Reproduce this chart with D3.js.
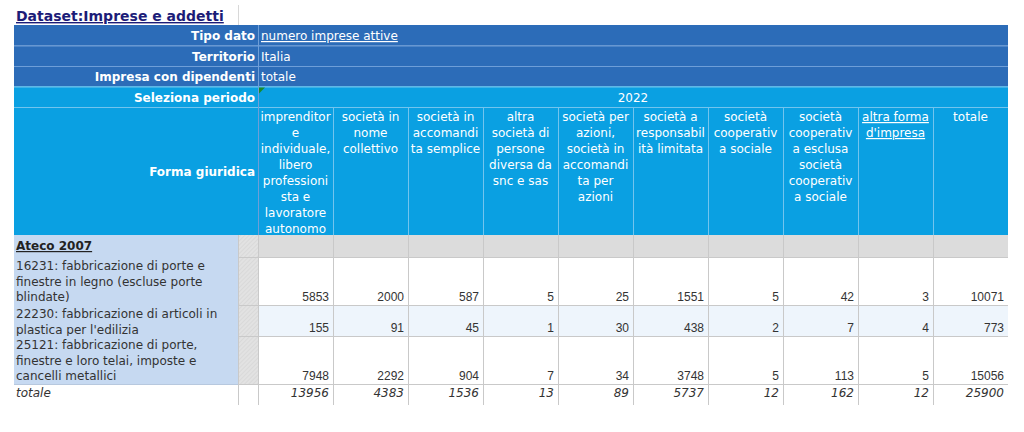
<!DOCTYPE html>
<html><head><meta charset="utf-8">
<script src="https://cdn.jsdelivr.net/npm/d3@7"></script>
<style>body{margin:0;background:#fff}svg{display:block}</style>
</head><body>
<script>
const title = "Dataset:Imprese e addetti";
const filterLabels = ["Tipo dato", "Territorio", "Impresa con dipendenti", "Seleziona periodo"];
const filterValues = ["numero imprese attive", "Italia", "totale", ""];
const periodLabel = "2022";
const columnTitle = "Forma giuridica";
const columns = [
  ["imprenditor","e","individuale,","libero","professioni","sta e","lavoratore","autonomo"],
  ["società in","nome","collettivo"],
  ["società in","accomandi","ta semplice"],
  ["altra","società di","persone","diversa da","snc e sas"],
  ["società per","azioni,","società in","accomandi","ta per","azioni"],
  ["società a","responsabil","ità limitata"],
  ["società","cooperativ","a sociale"],
  ["società","cooperativ","a esclusa","società","cooperativ","a sociale"],
  ["altra forma","d'impresa"],
  ["totale"]
];
const rowGroupLabel = "Ateco 2007";
const rowLabels = [
  ["16231: fabbricazione di porte e","finestre in legno (escluse porte","blindate)"],
  ["22230: fabbricazione di articoli in","plastica per l'edilizia"],
  ["25121: fabbricazione di porte,","finestre e loro telai, imposte e","cancelli metallici"]
];
const row16231 = [5853, 2000, 587, 5, 25, 1551, 5, 42, 3, 10071];
const row22230 = [155, 91, 45, 1, 30, 438, 2, 7, 4, 773];
const row25121 = [7948, 2292, 904, 7, 34, 3748, 5, 113, 5, 15056];
const totalLabel = "totale";
const totals = [13956, 4383, 1536, 13, 89, 5737, 12, 162, 12, 25900];
const rowValues = [row16231, row22230, row25121];

const W = 1024, H = 432;
const svg = d3.select("body").append("svg").attr("width", W).attr("height", H);
const defs = svg.append("defs");
const pat = defs.append("pattern").attr("id","hatch").attr("width",3).attr("height",3)
  .attr("patternUnits","userSpaceOnUse").attr("patternTransform","rotate(45)");
pat.append("rect").attr("width",3).attr("height",3).attr("fill","#e2e2e2");
pat.append("line").attr("x1",0).attr("y1",0).attr("x2",0).attr("y2",3).attr("stroke","#d0d0d0").attr("stroke-width",1);

const L = 14, LBLR = 238, DL = 258, R = 1008;
const x = d3.scaleBand().domain(d3.range(columns.length)).range([DL, R]);
const cw = x.bandwidth();
const DARK = "#2c6cb8", LIGHT = "#0aa0e2", SEP_DARK = "#6e9ed8", SEP_LIGHT = "#72c4ee";
const VF = "'DejaVu Sans', Verdana, sans-serif";
const AF = "'Liberation Sans', Arial, sans-serif";
const FS = 12;

// title
svg.append("text").attr("x", 16).attr("y", 21).text(title)
  .attr("font-family", VF).attr("font-weight","bold").attr("font-size", 14)
  .attr("fill","#1c1c78").attr("text-decoration","underline");
svg.append("line").attr("x1",238.5).attr("x2",238.5).attr("y1",5).attr("y2",25).attr("stroke","#d8d8d8");

// filter rows
const fy = d3.scaleLinear().domain([0, 4]).range([25, 107]);
filterLabels.forEach((lab, i) => {
  const y0 = fy(i), y1 = fy(i+1);
  const bg = i < 3 ? DARK : LIGHT;
  svg.append("rect").attr("x", L).attr("y", y0).attr("width", R-L).attr("height", y1-y0).attr("fill", bg);
  svg.append("text").attr("x", 255).attr("y", y0+15).attr("text-anchor","end").text(lab)
    .attr("font-family", VF).attr("font-weight","bold").attr("font-size", FS).attr("fill","#fff");
  if (filterValues[i]) {
    const t = svg.append("text").attr("x", 261).attr("y", y0+15).text(filterValues[i])
      .attr("font-family", VF).attr("font-size", FS).attr("fill","#fff");
    if (i === 0) t.attr("text-decoration","underline");
  }
});
const yP0 = fy(3);
svg.append("text").attr("x", (DL+R)/2).attr("y", yP0+15).attr("text-anchor","middle").text(periodLabel)
  .attr("font-family", VF).attr("font-size", FS).attr("fill","#fff");

// column header
const hy0 = fy(4), hy1 = 235;
svg.append("rect").attr("x", L).attr("y", hy0).attr("width", R-L).attr("height", hy1-hy0).attr("fill", LIGHT);
svg.append("text").attr("x", 255).attr("y", (hy0+hy1)/2+5).attr("text-anchor","end").text(columnTitle)
  .attr("font-family", VF).attr("font-weight","bold").attr("font-size", FS).attr("fill","#fff");
columns.forEach((lines, j) => {
  const t = svg.append("text").attr("x", x(j)+cw/2).attr("y", hy0+14).attr("text-anchor","middle")
    .attr("font-family", VF).attr("font-size", FS).attr("fill","#fff");
  lines.forEach((ln, k) => t.append("tspan").attr("x", x(j)+cw/2).attr("y", hy0+14+k*16).text(ln));
  if (j === 8) t.attr("text-decoration","underline");
});
// separators in header
for (let i = 1; i < 5; i++) {
  svg.append("line").attr("x1", L).attr("x2", R).attr("y1", fy(i)+0.5).attr("y2", fy(i)+0.5)
    .attr("stroke", i < 3 ? SEP_DARK : SEP_LIGHT).attr("stroke-width", 1);
}
svg.append("line").attr("x1", DL+0.5).attr("x2", DL+0.5).attr("y1", 25).attr("y2", hy1).attr("stroke", SEP_DARK);
d3.range(1, columns.length).forEach(j => {
  svg.append("line").attr("x1", x(j)+0.5).attr("x2", x(j)+0.5).attr("y1", hy0).attr("y2", hy1).attr("stroke", SEP_LIGHT);
});
svg.append("path").attr("d", `M${DL+1},${yP0+1}h6l-6,6z`).attr("fill","#1a8a2a");

// body rows
const LH = 17;
const heights = [22].concat(rowLabels.map(r => r.length*LH - 3)).concat([19]);
const ys = [hy1];
heights.forEach(h => ys.push(ys[ys.length-1] + h));
const LBL_BG = "#c6d9f1", GRID = "#c9c9c9";

// Ateco row
svg.append("rect").attr("x", L).attr("y", ys[0]).attr("width", LBLR-L).attr("height", heights[0]).attr("fill", LBL_BG);
svg.append("rect").attr("x", LBLR).attr("y", ys[0]).attr("width", DL-LBLR).attr("height", heights[0]).attr("fill", "url(#hatch)");
svg.append("rect").attr("x", DL).attr("y", ys[0]).attr("width", R-DL).attr("height", heights[0]).attr("fill", "#dcdcdc");
svg.append("text").attr("x", 16).attr("y", ys[0]+15).text(rowGroupLabel)
  .attr("font-family", VF).attr("font-weight","bold").attr("font-size", FS).attr("fill","#222")
  .attr("text-decoration","underline");

rowLabels.forEach((lines, i) => {
  const y0 = ys[i+1], h = heights[i+1];
  svg.append("rect").attr("x", L).attr("y", y0).attr("width", LBLR-L).attr("height", h).attr("fill", LBL_BG);
  svg.append("rect").attr("x", LBLR).attr("y", y0).attr("width", DL-LBLR).attr("height", h).attr("fill", "url(#hatch)");
  svg.append("rect").attr("x", DL).attr("y", y0).attr("width", R-DL).attr("height", h).attr("fill", i === 1 ? "#eef5fc" : "#fff");
  const t = svg.append("text").attr("font-family", VF).attr("font-size", FS).attr("fill","#333");
  lines.forEach((ln, k) => t.append("tspan").attr("x", 16).attr("y", y0+13+k*15.7).text(ln));
  svg.selectAll(null).data(rowValues[i]).join("text")
    .attr("x", (d, j) => x(j)+cw-4).attr("y", y0+h-4).attr("text-anchor","end")
    .attr("font-family", AF).attr("font-size", 12).attr("fill","#333").text(d => d);
});

// totale row
const ty0 = ys[4];
svg.append("text").attr("x", 16).attr("y", ty0+13).text(totalLabel)
  .attr("font-family", VF).attr("font-style","italic").attr("font-size", FS).attr("fill","#333");
svg.selectAll(null).data(totals).join("text")
  .attr("x", (d, j) => x(j)+cw-4).attr("y", ty0+13).attr("text-anchor","end")
  .attr("font-family", VF).attr("font-style","italic").attr("font-size", FS).attr("fill","#333").text(d => d);

// grid lines in body
for (let i = 1; i <= 4; i++) {
  svg.append("line").attr("x1", LBLR).attr("x2", R).attr("y1", ys[i]+0.5).attr("y2", ys[i]+0.5)
    .attr("stroke", GRID).attr("stroke-width", 1);
}
svg.append("line").attr("x1", L).attr("x2", LBLR).attr("y1", ys[4]+0.5).attr("y2", ys[4]+0.5).attr("stroke", "#b7c8de");
const vx = [LBLR, DL].concat(d3.range(1, columns.length).map(j => x(j)));
vx.forEach(v => {
  svg.append("line").attr("x1", v+0.5).attr("x2", v+0.5).attr("y1", ys[0]).attr("y2", ys[5]+2)
    .attr("stroke", GRID).attr("stroke-width", 1);
});
</script>
</body></html>
